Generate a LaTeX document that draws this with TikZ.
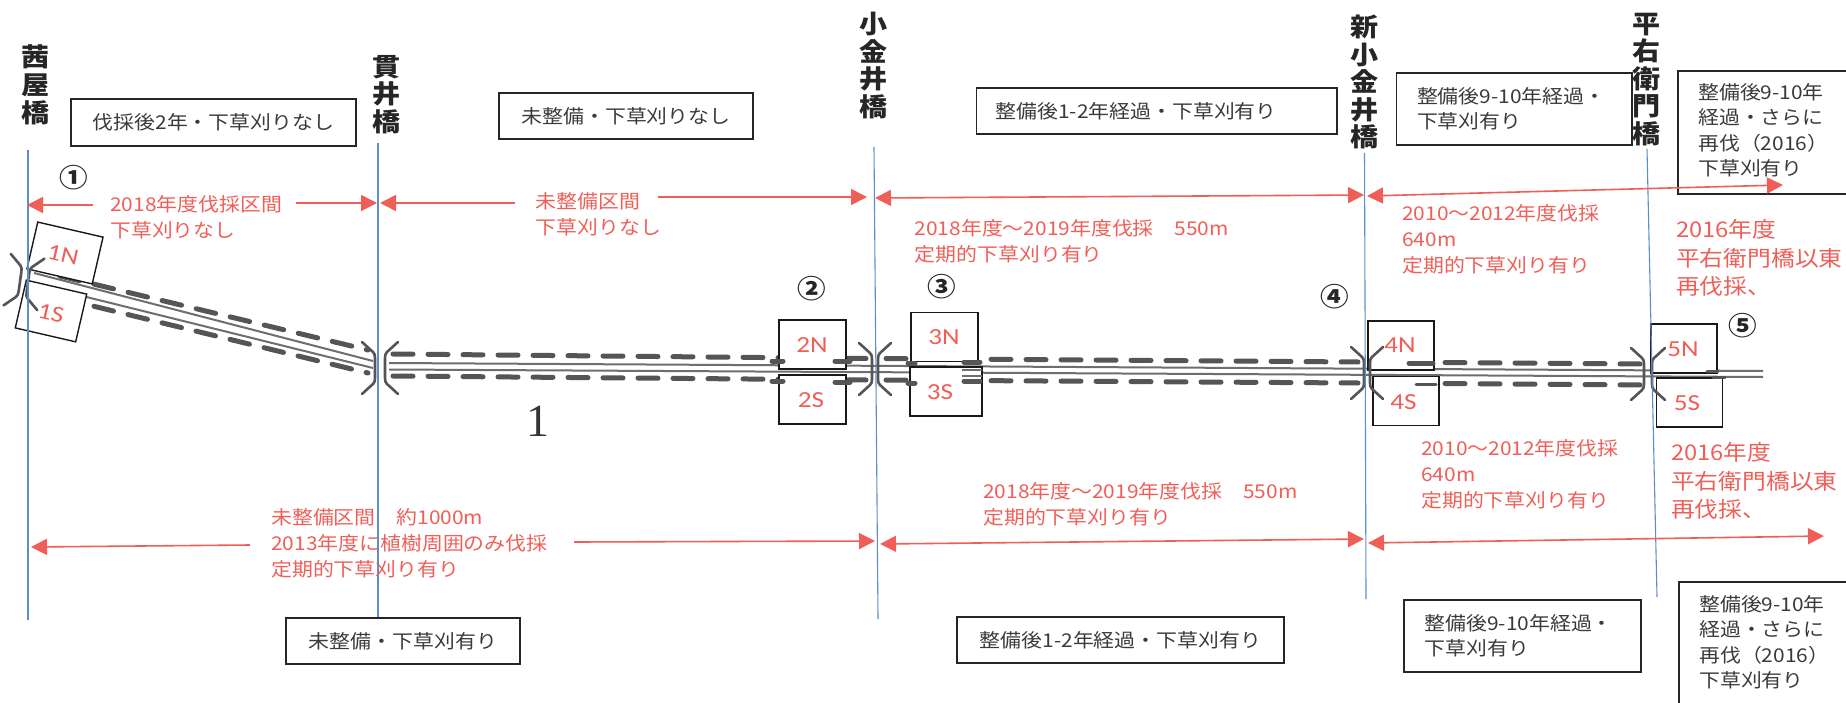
\documentclass[tikz,border=0pt]{standalone}
\usepackage{fontspec}
\setmainfont[FakeStretch=1.1]{Noto Sans CJK JP}
\newfontfamily\latinfont[FakeStretch=1.18]{Carlito}
\newfontfamily\serifone{Liberation Serif}
\usetikzlibrary{arrows.meta}
\definecolor{redline}{HTML}{EF5F58}
\definecolor{blueline}{HTML}{5B8FC9}
\definecolor{riverdark}{HTML}{555555}
\definecolor{boxtext}{HTML}{3A3A3A}
\tikzset{
  redtext/.style={text=redline,anchor=west,align=left,inner sep=0pt,font=\fontsize{19}{26}\selectfont},
  redbig/.style={redtext,font=\fontsize{21.6}{28.5}\selectfont},
  textbox/.style={draw=black!85,line width=1.5pt,fill=white,inner ysep=0pt,text=boxtext,align=left,font=\fontsize{19}{25}\selectfont},
  centerbox/.style={draw=black!85,line width=1.5pt,fill=white,inner sep=0pt,text=boxtext,align=center,font=\fontsize{19}{25}\selectfont},
  plaintext/.style={text=boxtext,anchor=west,align=left,inner sep=0pt,font=\fontsize{19}{25.5}\selectfont},
  smallbox/.style={draw=black!90,line width=1.4pt,fill=white,inner sep=0pt,minimum width=66pt,minimum height=49pt},
  smalllabel/.style={text=redline,inner sep=0pt,font=\latinfont\fontsize{23}{23}\selectfont},
  bridgename/.style={text=black!85,align=center,inner sep=0pt,anchor=north,font=\bfseries\fontsize{25.5}{27.5}\selectfont},
  circled/.style={text=black!85,inner sep=0pt,font=\bfseries\fontsize{26}{26}\selectfont},
  bluerule/.style={blueline,line width=1.1pt},
  redarrow/.style={redline,line width=1.6pt,-{Triangle[length=16pt,width=16pt]}},
  redboth/.style={redline,line width=1.6pt,{Triangle[length=16pt,width=16pt]}-{Triangle[length=16pt,width=16pt]}},
  riverline/.style={riverdark!85,line width=2pt},
  riverdash/.style={riverdark,line width=5pt,line cap=round,dash pattern=on 20pt off 15pt},
  riverbit/.style={riverdark,line width=5pt,line cap=round},
  bridgemark/.style={riverdark,line width=2.6pt,line cap=round,line join=round},
}
% left aligned text box given by its corners
\newcommand\leftbox[7]{%
  \pgfmathsetmacro\boxwd{#4-#2}\pgfmathsetmacro\boxht{#5-#3}\pgfmathsetmacro\boxtw{#4-#2-2*#6}%
  \node[textbox,minimum width=\boxwd pt,minimum height=\boxht pt,text width=\boxtw pt,inner xsep=#6pt,outer sep=0pt] (#1) at ({(#2+#4)/2},{(#3+#5)/2}) {#7};}
\newcommand\midbox[6]{%
  \pgfmathsetmacro\boxwd{#4-#2}\pgfmathsetmacro\boxht{#5-#3}%
  \node[centerbox,minimum width=\boxwd pt,minimum height=\boxht pt,outer sep=0pt] (#1) at ({(#2+#4)/2},{(#3+#5)/2}) {#6};}
% the two flared brackets that mark a bridge: x, y, rotation, half gap
\newcommand\bridgesign[4]{%
  \begin{scope}[shift={(#1,#2)},rotate=#3]
    \draw[bridgemark] (-#4-13,-26) -- (-#4-2,-16) .. controls (-#4-0.5,-14.5) and (-#4,-13) .. (-#4,-10) -- (-#4,10) .. controls (-#4,13) and (-#4-0.5,14.5) .. (-#4-2,16) -- (-#4-13,26);
    \draw[bridgemark] (#4+13,-26) -- (#4+2,-16) .. controls (#4+0.5,-14.5) and (#4,-13) .. (#4,-10) -- (#4,10) .. controls (#4,13) and (#4+0.5,14.5) .. (#4+2,16) -- (#4+13,26);
  \end{scope}}
\begin{document}
\begin{tikzpicture}[x=1pt,y=-1pt]
\useasboundingbox (0,0) rectangle (1846,703);
\fill[white] (0,0) rectangle (1846,703);

% river, sloping reach
\draw[riverline] (34,273) -- (373,361);
\draw[riverline] (34,284) -- (373,368);
\draw[riverdash] (60,276) -- (368,350);
\draw[riverdash] (60,298) -- (368,373);
% river, straight reach
\draw[riverline] (389,363) -- (1763,371);
\draw[riverline] (389,369.5) -- (1763,377);
\draw[riverdash] (393,354) -- (866,358.5);
\draw[riverdash] (393,376) -- (866,380);
\draw[riverdash] (886,358.5) -- (1358,362);
\draw[riverdash] (886,380) -- (1358,383);
\draw[riverdash] (1375,362) -- (1642,364);
\draw[riverdash] (1375,383) -- (1642,385);

% sample plots
\node[smallbox,minimum width=67pt,minimum height=48pt,rotate=-13] (b1N) at (65,253) {};
\node[smallbox,minimum width=62pt,minimum height=49pt,rotate=-13] (b1S) at (51,311) {};
\node[smalllabel,rotate=-13] (t1N) at (63,255) {1N};
\node[smalllabel,rotate=-13] (t1S) at (51,313) {1S};
\node[smallbox,minimum width=67pt] (b2N) at (812.5,344.5) {};
\node[smallbox,minimum width=67pt] (b2S) at (812.5,399.5) {};
\node[smallbox,minimum width=67pt] (b3N) at (944.5,337) {};
\node[smallbox,minimum width=72pt] (b3S) at (946,391.5) {};
\node[smallbox] (b4N) at (1401,345.5) {};
\node[smallbox] (b4S) at (1406,401) {};
\node[smallbox] (b5N) at (1684,348.5) {};
\node[smallbox] (b5S) at (1689.5,402.5) {};
\node[smalllabel] (t2N) at (812,345) {2N};
\node[smalllabel] (t2S) at (811,400) {2S};
\node[smalllabel] (t3N) at (944,337) {3N};
\node[smalllabel] (t3S) at (940,392) {3S};
\node[smalllabel] (t4N) at (1400,345) {4N};
\node[smalllabel] (t4S) at (1403.5,402) {4S};
\node[smalllabel] (t5N) at (1683,349) {5N};
\node[smalllabel] (t5S) at (1687,403) {5S};

% river pieces that show over the plot boxes
\draw[riverbit] (772,361) -- (783,361);
\draw[riverbit] (772,381) -- (783,381);
\draw[riverbit] (835,361) -- (850,361);
\draw[riverbit] (835,382) -- (850,382);
\draw[riverbit] (908,363) -- (915,363);
\draw[riverbit] (908,383) -- (915,383);
\draw[riverline] (962,370) -- (982,370);
\draw[riverline] (962,376) -- (982,376);
\draw[riverbit] (964,362) -- (980,362);
\draw[riverbit] (964,381) -- (980,381);
\draw[riverbit] (1409,363) -- (1433,363);
\draw[riverbit,line width=3pt] (1416,384) -- (1436,384);
\draw[riverbit,line width=3pt] (1707,371) -- (1718,371);
\draw[riverbit,line width=3pt] (1713,377) -- (1725,377);

% bridges
\bridgesign{24}{282}{-8}{4}
\bridgesign{380}{368}{0}{5}
\bridgesign{875}{369}{0}{3}
\bridgesign{1367}{373}{0}{3}
\bridgesign{1648}{374}{0}{4}

% blue rules at the bridges
\draw[bluerule] (28,150) -- (28,620);
\draw[bluerule] (378,143) -- (378,618);
\draw[bluerule] (874,147) -- (878,619);
\draw[bluerule] (1364.5,153) -- (1366,599);
\draw[bluerule] (1647,149) -- (1657,597);

% bridge names
\node[bridgename] (n1) at (36,45) {茜\\屋\\橋};
\node[bridgename] (n2) at (387,55) {貫\\井\\橋};
\node[bridgename] (n3) at (874,12) {小\\金\\井\\橋};
\node[bridgename] (n4) at (1364.5,15) {新\\小\\金\\井\\橋};
\node[bridgename] (n5) at (1647,13) {平\\右\\衛\\門\\橋};

% top condition boxes
\midbox{c1}{71}{99}{356}{146}{伐採後2年・下草刈りなし}
\midbox{c2}{499}{93}{753}{139}{未整備・下草刈りなし}
\leftbox{c3}{976.5}{88}{1337}{134}{19}{整備後1-2年経過・下草刈有り}
\leftbox{c4}{1396.5}{73}{1632}{145}{20.5}{整備後9-10年経過・\\下草刈有り}
\node[plaintext] (c5) at (1698,130) {整備後9-10年\\経過・さらに\\再伐（2016）\\下草刈有り};
\draw[black!85,line width=1.5pt] (1846,71) -- (1678,71) -- (1678,194) -- (1846,194);

% bottom condition boxes
\midbox{d1}{286}{618}{520}{664}{未整備・下草刈有り}
\midbox{d2}{957}{617}{1284}{663}{整備後1-2年経過・下草刈有り}
\leftbox{d3}{1404}{600}{1641}{672}{20.5}{整備後9-10年経過・\\下草刈有り}
\node[plaintext] (d4) at (1699,642) {整備後9-10年\\経過・さらに\\再伐（2016）\\下草刈有り};
\draw[black!85,line width=1.5pt] (1846,582) -- (1679,582) -- (1679,703);

% top arrows
\draw[redarrow] (93,205) -- (27,205);
\draw[redarrow] (296,203) -- (377,203);
\draw[redarrow] (515,203) -- (380,203);
\draw[redarrow] (657.5,197) -- (867,197);
\draw[redboth] (875,198) -- (1364,195);
\draw[redboth] (1367,196) -- (1783,185);

% bottom arrows
\draw[redarrow] (250,545) -- (31,547);
\draw[redarrow] (574,542) -- (875,541);
\draw[redboth] (880,544) -- (1364,539);
\draw[redboth] (1368,543) -- (1824,536);

% red notes, top
\node[redtext] (r1) at (110,217) {2018年度伐採区間\\下草刈りなし};
\node[redtext] (r2) at (535.6,214) {未整備区間\\下草刈りなし};
\node[redtext] (r3) at (914.5,241.5) {2018年度～2019年度伐採　550m\\定期的下草刈り有り};
\node[redtext] (r4) at (1402,239) {2010～2012年度伐採\\640m\\定期的下草刈り有り};
\node[redbig] (r5) at (1676,258) {2016年度\\平右衛門橋以東\\再伐採、};
% red notes, bottom
\node[redtext] (r6) at (271,543) {未整備区間　約1000m\\2013年度に植樹周囲のみ伐採\\定期的下草刈り有り};
\node[redtext] (r7) at (983,504) {2018年度～2019年度伐採　550m\\定期的下草刈り有り};
\node[redtext] (r8) at (1421,474) {2010～2012年度伐採\\640m\\定期的下草刈り有り};
\node[redbig] (r9) at (1671,481) {2016年度\\平右衛門橋以東\\再伐採、};

% circled numbers
\node[circled] (k1) at (74,178) {①};
\node[circled] (k2) at (812,289) {②};
\node[circled] (k3) at (942,287) {③};
\node[circled] (k4) at (1335,297) {④};
\node[circled] (k5) at (1743,326) {⑤};

\node[text=black!80,inner sep=0pt,font=\serifone\fontsize{46}{46}\selectfont] (one) at (538,421) {1};
\end{tikzpicture}
\end{document}
